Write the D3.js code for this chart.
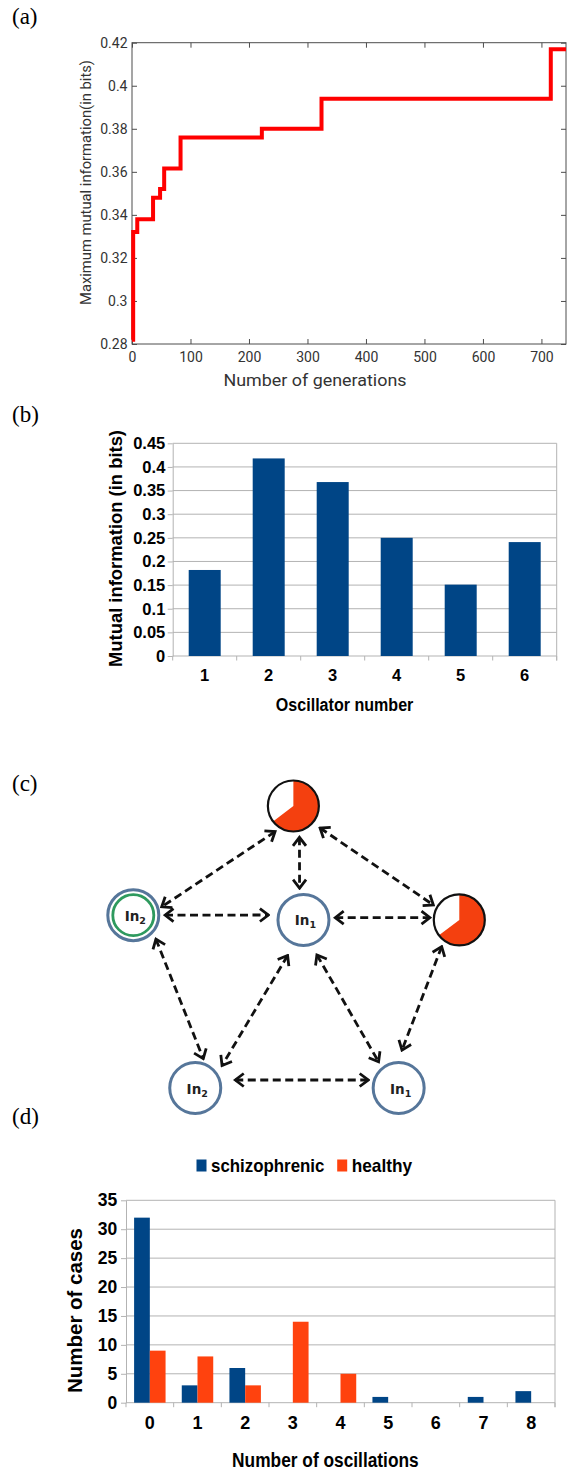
<!DOCTYPE html>
<html><head><meta charset="utf-8">
<script src="https://cdn.jsdelivr.net/npm/d3@7"></script>
<style>body{margin:0;background:#fff}svg{display:block}</style>
</head><body><svg id="c" width="574" height="1472"></svg>
<script>
// ---------- DATA ----------
// Panel (a)
const genSteps = [0, 2, 9, 36, 48, 55, 83, 222, 324, 716, 742];
const maxMI    = [0.282, 0.332, 0.338, 0.348, 0.352, 0.3615, 0.376, 0.380, 0.394, 0.417, 0.417];
const genTicks = [0, 100, 200, 300, 400, 500, 600, 700];
const miTicksA = [0.28, 0.30, 0.32, 0.34, 0.36, 0.38, 0.40, 0.42];
// Panel (b)
const oscillators = ["1", "2", "3", "4", "5", "6"];
const oscMI = [0.182, 0.418, 0.368, 0.250, 0.151, 0.241];
const miTicksB = [0, 0.05, 0.10, 0.15, 0.20, 0.25, 0.30, 0.35, 0.40, 0.45];
// Panel (c) network (layout units)
const nodeIds  = ["top", "left", "mid", "right", "bl", "br"];
const nodeU    = [0.491, 0, 0.522, 1, 0.19, 0.814];
const nodeV    = [0, 0.387, 0.404, 0.404, 1, 1];
const nodeKind = ["pie", "ring", "in", "pie", "in", "in"];
const nodeSub  = ["", "2", "1", "", "2", "1"];
const pieShare = 0.647; // filled fraction of the pie nodes
// edges: source, target, anchor angle/dist at source, anchor angle/dist at target
const edgeList = [
  ["top", "left", 125.5, 31.5, -16.3, 29.6],
  ["top", "mid", 79, 31.9, -97, 32],
  ["top", "right", 39.5, 34.6, -150, 30],
  ["left", "mid", 0, 31.7, -172, 35.4],
  ["mid", "right", -4, 31.8, -175.5, 29.4],
  ["left", "bl", 46.7, 33, -74.7, 30.4],
  ["mid", "bl", 114, 39, -40, 35],
  ["mid", "br", 69, 37.5, -127.5, 33],
  ["right", "br", 123.4, 32, -85, 38],
  ["bl", "br", -11.3, 40.8, -165.3, 31.5]
];
// Panel (d)
const oscCounts = ["0", "1", "2", "3", "4", "5", "6", "7", "8"];
const schizophrenic = [32, 3, 6, 0, 0, 1, 0, 1, 2];
const healthy = [9, 8, 3, 14, 5, 0, 0, 0, 0];
const caseTicks = [0, 5, 10, 15, 20, 25, 30, 35];
const seriesNames = ["schizophrenic", "healthy"];
const panelLabels = ["(a)", "(b)", "(c)", "(d)"];

// ---------- STYLE ----------
const serif = "'Liberation Serif','Times New Roman',serif";
const sans = "'Liberation Sans',Arial,sans-serif";
const roboto = "Roboto,'Liberation Sans',sans-serif";
const BLUE = "#004586", ORANGE = "#ff420e", GRID = "#b3b3b3";
const fmt = d3.format("~g");

const svg = d3.select("#c");

// panel labels
const panelLabelY = [24, 421.7, 791, 1124];
svg.selectAll("text.plabel").data(panelLabels).join("text")
  .attr("class", "plabel").attr("x", 12).attr("y", (d, i) => panelLabelY[i])
  .attr("font-family", serif).attr("font-size", 23).attr("fill", "#000").text(d => d);

// ---------- PANEL (a) ----------
{
  const ax = d3.scaleLinear().domain([0, 742]).range([132, 566]);
  const ay = d3.scaleLinear().domain([0.28, 0.42]).range([344, 42.7]);
  const g = svg.append("g");
  const style = s => {
    s.select(".domain").remove();
    s.selectAll(".tick line").attr("stroke", "#4d4d4d");
    s.selectAll("text").attr("fill", "#333").attr("font-size", 14).attr("font-family", roboto);
  };
  g.append("g").attr("transform", `translate(0,${ay(0.28)})`)
    .call(d3.axisBottom(ax).tickValues(genTicks).tickSize(-5).tickPadding(8)).call(style);
  g.append("g").attr("transform", `translate(0,${ay(0.42)})`)
    .call(d3.axisTop(ax).tickValues(genTicks).tickSize(-5).tickFormat("")).call(style);
  g.append("g").attr("transform", `translate(${ax(0)},0)`)
    .call(d3.axisLeft(ay).tickValues(miTicksA).tickSize(-5).tickPadding(4.5).tickFormat(fmt)).call(style);
  g.append("g").attr("transform", `translate(${ax(742)},0)`)
    .call(d3.axisRight(ay).tickValues(miTicksA).tickSize(-5).tickFormat("")).call(style);
  g.append("rect").attr("x", ax(0)).attr("y", ay(0.42))
    .attr("width", ax(742) - ax(0)).attr("height", ay(0.28) - ay(0.42))
    .attr("fill", "none").attr("stroke", "#4d4d4d").attr("stroke-width", 1);
  const pts = genSteps.map((gx, i) => [gx, maxMI[i]]);
  g.append("path").datum(pts)
    .attr("d", d3.line().x(d => ax(d[0])).y(d => ay(d[1])).curve(d3.curveStepAfter))
    .attr("fill", "none").attr("stroke", "#ff0000").attr("stroke-width", 4);
  g.append("text").attr("x", 315).attr("y", 385.5).attr("text-anchor", "middle")
    .attr("font-family", roboto).attr("font-size", 16).attr("fill", "#333")
    .attr("textLength", 183).attr("lengthAdjust", "spacingAndGlyphs").text("Number of generations");
  g.append("text").attr("transform", "translate(91,182.5) rotate(-90)").attr("text-anchor", "middle")
    .attr("font-family", roboto).attr("font-size", 14).attr("fill", "#333")
    .attr("textLength", 245).attr("lengthAdjust", "spacingAndGlyphs").text("Maximum mutual information(in bits)");
}

// ---------- PANEL (b) ----------
{
  const bx = d3.scaleBand().domain(oscillators).range([172.7, 556.7]).paddingInner(0.5).paddingOuter(0.25);
  const by = d3.scaleLinear().domain([0, 0.45]).range([656, 443.3]);
  const g = svg.append("g");
  const [x0, x1] = bx.range();
  g.selectAll("line.grid").data(miTicksB.filter(v => v > 0)).join("line")
    .attr("x1", x0).attr("x2", x1).attr("y1", d => by(d)).attr("y2", d => by(d))
    .attr("stroke", GRID);
  g.append("line").attr("x1", x1).attr("x2", x1).attr("y1", by(0.45)).attr("y2", by(0) + 4.5).attr("stroke", GRID);
  g.append("line").attr("x1", x0).attr("x2", x1).attr("y1", by(0)).attr("y2", by(0)).attr("stroke", GRID);
  g.selectAll("line.btick").data(d3.range(oscillators.length + 1)).join("line")
    .attr("x1", i => x0 + i * bx.step()).attr("x2", i => x0 + i * bx.step())
    .attr("y1", by(0)).attr("y2", by(0) + 4.5).attr("stroke", GRID);
  const ya = g.append("g").attr("transform", `translate(${x0},0)`)
    .call(d3.axisLeft(by).tickValues(miTicksB).tickSize(5).tickSizeOuter(0).tickPadding(2.4).tickFormat(fmt));
  ya.select(".domain").attr("stroke", GRID);
  ya.selectAll(".tick line").attr("stroke", GRID);
  ya.selectAll("text").attr("font-family", sans).attr("font-weight", "bold").attr("font-size", 16.5).attr("fill", "#000");
  const xa = g.append("g").attr("transform", `translate(0,${by(0)})`)
    .call(d3.axisBottom(bx).tickSize(0).tickPadding(13));
  xa.select(".domain").remove();
  xa.selectAll("text").attr("font-family", sans).attr("font-weight", "bold").attr("font-size", 16.5).attr("fill", "#000");
  g.selectAll("rect.bar").data(oscillators).join("rect")
    .attr("x", d => bx(d)).attr("width", bx.bandwidth())
    .attr("y", (d, i) => by(oscMI[i])).attr("height", (d, i) => by(0) - by(oscMI[i]))
    .attr("fill", BLUE);
  g.append("text").attr("x", 344.6).attr("y", 711).attr("text-anchor", "middle")
    .attr("font-family", sans).attr("font-weight", "bold").attr("font-size", 17.5).attr("fill", "#000")
    .attr("textLength", 137.5).attr("lengthAdjust", "spacingAndGlyphs").text("Oscillator number");
  g.append("text").attr("transform", "translate(121.5,548.5) rotate(-90)").attr("text-anchor", "middle")
    .attr("font-family", sans).attr("font-weight", "bold").attr("font-size", 17.5).attr("fill", "#000")
    .attr("textLength", 237).attr("lengthAdjust", "spacingAndGlyphs").text("Mutual information (in bits)");
}

// ---------- PANEL (c) ----------
{
  const cx = d3.scaleLinear().domain([0, 1]).range([133.3, 459.3]);
  const cy = d3.scaleLinear().domain([0, 1]).range([806, 1088]);
  const R = 25.5;
  const nodes = nodeIds.map((id, i) => ({ id, x: cx(nodeU[i]), y: cy(nodeV[i]), kind: nodeKind[i], sub: nodeSub[i] }));
  const byId = Object.fromEntries(nodes.map(n => [n.id, n]));
  const g = svg.append("g");
  const defs = svg.append("defs");
  defs.append("marker").attr("id", "chev").attr("viewBox", "-12 -8 14 16")
    .attr("refX", 0).attr("refY", 0).attr("markerWidth", 14).attr("markerHeight", 16)
    .attr("markerUnits", "userSpaceOnUse").attr("orient", "auto-start-reverse")
    .append("path").attr("d", "M-8.5,-6.5 L0,0 L-8.5,6.5").attr("fill", "none")
    .attr("stroke", "#111").attr("stroke-width", 2.8).attr("stroke-linejoin", "miter");
  const rad = a => a * Math.PI / 180;
  g.selectAll("line.edge").data(edgeList).join("line")
    .attr("x1", e => byId[e[0]].x + e[3] * Math.cos(rad(e[2])))
    .attr("y1", e => byId[e[0]].y + e[3] * Math.sin(rad(e[2])))
    .attr("x2", e => byId[e[1]].x + e[5] * Math.cos(rad(e[4])))
    .attr("y2", e => byId[e[1]].y + e[5] * Math.sin(rad(e[4])))
    .attr("stroke", "#111").attr("stroke-width", 2.8).attr("stroke-dasharray", "8,4.5")
    .attr("marker-start", "url(#chev)").attr("marker-end", "url(#chev)");
  const ng = g.selectAll("g.node").data(nodes).join("g").attr("transform", d => `translate(${d.x},${d.y})`);
  ng.filter(d => d.kind === "pie").each(function () {
    const s = d3.select(this);
    s.append("circle").attr("r", R).attr("fill", "#fff");
    s.append("path").attr("d", d3.arc()({ innerRadius: 0, outerRadius: R, startAngle: 0, endAngle: 2 * Math.PI * pieShare }))
      .attr("fill", "#f4400f");
    s.append("circle").attr("r", R).attr("fill", "none").attr("stroke", "#111").attr("stroke-width", 2.2);
  });
  ng.filter(d => d.kind !== "pie").append("circle").attr("r", R)
    .attr("fill", "#fff").attr("stroke", "#56769a").attr("stroke-width", 3);
  ng.filter(d => d.kind === "ring").append("circle").attr("r", 20.5)
    .attr("fill", "none").attr("stroke", "#2e9a5e").attr("stroke-width", 2.8);
  const t = ng.filter(d => d.kind !== "pie").append("text").attr("x", 2).attr("y", 5.5)
    .attr("text-anchor", "middle").attr("font-family", "'DejaVu Sans',Verdana,sans-serif")
    .attr("font-weight", "bold").attr("font-size", 13.5).attr("fill", "#222");
  t.append("tspan").text("In");
  t.append("tspan").attr("font-size", 9.5).attr("dy", 3).text(d => d.sub);
}

// ---------- PANEL (d) ----------
{
  const dx = d3.scaleBand().domain(oscCounts).range([126, 555]).paddingInner(0.34).paddingOuter(0.17);
  const dxi = d3.scaleBand().domain(seriesNames).range([0, dx.bandwidth()]);
  const dy = d3.scaleLinear().domain([0, 35]).range([1402.7, 1200.3]);
  const colors = d3.scaleOrdinal().domain(seriesNames).range([BLUE, ORANGE]);
  const values = { schizophrenic, healthy };
  const g = svg.append("g");
  const [x0, x1] = dx.range();
  g.selectAll("line.grid").data(caseTicks.filter(v => v > 0)).join("line")
    .attr("x1", x0).attr("x2", x1).attr("y1", d => dy(d)).attr("y2", d => dy(d)).attr("stroke", GRID);
  g.append("line").attr("x1", x1).attr("x2", x1).attr("y1", dy(35)).attr("y2", dy(0) + 4.5).attr("stroke", GRID);
  g.append("line").attr("x1", x0).attr("x2", x1).attr("y1", dy(0)).attr("y2", dy(0)).attr("stroke", GRID);
  g.selectAll("line.btick").data(d3.range(oscCounts.length + 1)).join("line")
    .attr("x1", i => x0 + i * dx.step()).attr("x2", i => x0 + i * dx.step())
    .attr("y1", dy(0)).attr("y2", dy(0) + 4.5).attr("stroke", GRID);
  const ya = g.append("g").attr("transform", `translate(${x0},0)`)
    .call(d3.axisLeft(dy).tickValues(caseTicks).tickSize(5).tickSizeOuter(0).tickPadding(3.7));
  ya.select(".domain").attr("stroke", GRID);
  ya.selectAll(".tick line").attr("stroke", GRID);
  ya.selectAll("text").attr("font-family", sans).attr("font-weight", "bold").attr("font-size", 17.5).attr("fill", "#000");
  const xa = g.append("g").attr("transform", `translate(0,${dy(0)})`)
    .call(d3.axisBottom(dx).tickSize(0).tickPadding(14));
  xa.select(".domain").remove();
  xa.selectAll("text").attr("font-family", sans).attr("font-weight", "bold").attr("font-size", 18).attr("fill", "#000");
  seriesNames.forEach(s => {
    g.selectAll(`rect.${s}`).data(oscCounts).join("rect").attr("class", s)
      .attr("x", d => dx(d) + dxi(s)).attr("width", dxi.bandwidth())
      .attr("y", (d, i) => dy(values[s][i])).attr("height", (d, i) => dy(0) - dy(values[s][i]))
      .attr("fill", colors(s));
  });
  // legend
  const legX = [196.5, 337.2], legLen = [113.4, 60.4];
  const lg = g.selectAll("g.leg").data(seriesNames).join("g").attr("transform", (d, i) => `translate(${legX[i]},1159.5)`);
  lg.append("rect").attr("width", 10).attr("height", 12).attr("fill", d => colors(d));
  lg.append("text").attr("x", 14.5).attr("y", 12.5).attr("font-family", sans).attr("font-weight", "bold")
    .attr("font-size", 19).attr("fill", "#000")
    .attr("textLength", (d, i) => legLen[i]).attr("lengthAdjust", "spacingAndGlyphs").text(d => d);
  g.append("text").attr("x", 325.4).attr("y", 1467).attr("text-anchor", "middle")
    .attr("font-family", sans).attr("font-weight", "bold").attr("font-size", 20).attr("fill", "#000")
    .attr("textLength", 186.6).attr("lengthAdjust", "spacingAndGlyphs").text("Number of oscillations");
  g.append("text").attr("transform", "translate(82,1310.5) rotate(-90)").attr("text-anchor", "middle")
    .attr("font-family", sans).attr("font-weight", "bold").attr("font-size", 20).attr("fill", "#000")
    .attr("textLength", 165).attr("lengthAdjust", "spacingAndGlyphs").text("Number of cases");
}
</script></body></html>
